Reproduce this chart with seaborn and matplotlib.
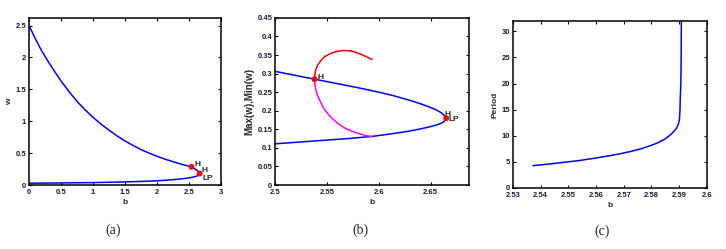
import numpy as np
import pandas as pd
import matplotlib
matplotlib.use("Agg")
import matplotlib.pyplot as plt
import seaborn as sns

sns.set_style("ticks")
plt.rcParams['font.family'] = ['Liberation Sans', 'DejaVu Sans']

# ---- Panel (a): equilibrium branch w vs b ----
a_upper_b = [0.0, 0.1, 0.2, 0.3, 0.4, 0.5, 0.625, 0.75, 0.875, 1.0, 1.125, 1.25, 1.375, 1.5,
             1.625, 1.75, 1.875, 2.0, 2.125, 2.25, 2.325, 2.4, 2.47, 2.538, 2.575, 2.61, 2.635,
             2.652, 2.66, 2.665]
a_upper_w = [2.5, 2.29, 2.10, 1.935, 1.78, 1.63, 1.465, 1.31, 1.18, 1.06, 0.955, 0.86, 0.77, 0.69,
             0.62, 0.555, 0.5, 0.45, 0.405, 0.365, 0.342, 0.32, 0.302, 0.285, 0.262, 0.24, 0.222,
             0.205, 0.193, 0.18]
a_lower_b = [2.665, 2.662, 2.656, 2.648, 2.635, 2.615, 2.59, 2.55, 2.5, 2.4, 2.3, 2.15, 2.0,
             1.75, 1.5, 1.25, 1.0, 0.5, 0.0]
a_lower_w = [0.18, 0.17, 0.162, 0.155, 0.147, 0.138, 0.131, 0.121, 0.112, 0.098, 0.088, 0.076, 0.066,
             0.056, 0.049, 0.043, 0.038, 0.032, 0.028]

# ---- Panel (b): zoom near fold, with limit cycle max/min ----
b_upper_b = [2.5, 2.52, 2.538, 2.56, 2.58, 2.6, 2.615, 2.63, 2.64, 2.648, 2.655, 2.66, 2.663, 2.665]
b_upper_w = [0.306, 0.295, 0.285, 0.273, 0.262, 0.25, 0.24, 0.228, 0.219, 0.211, 0.203, 0.195, 0.188, 0.18]
b_lower_b = [2.665, 2.664, 2.662, 2.659, 2.655, 2.648, 2.64, 2.629, 2.615, 2.594, 2.57, 2.55, 2.525, 2.5]
b_lower_w = [0.18, 0.174, 0.169, 0.165, 0.161, 0.156, 0.151, 0.145, 0.139, 0.131, 0.125, 0.121, 0.116, 0.111]
b_max_b = [2.538, 2.5383, 2.539, 2.5405, 2.5425, 2.545, 2.548, 2.552, 2.556, 2.5605, 2.5645,
           2.569, 2.573, 2.577, 2.582, 2.587, 2.5935]
b_max_w = [0.285, 0.297, 0.309, 0.32, 0.329, 0.338, 0.346, 0.352, 0.357, 0.36, 0.362,
           0.362, 0.361, 0.358, 0.353, 0.347, 0.338]
b_min_b = [2.538, 2.5383, 2.539, 2.5405, 2.5425, 2.545, 2.548, 2.552, 2.556, 2.5605, 2.5645,
           2.569, 2.575, 2.58, 2.585, 2.5895, 2.5935]
b_min_w = [0.285, 0.272, 0.259, 0.245, 0.231, 0.216, 0.202, 0.188, 0.177, 0.166, 0.158,
           0.151, 0.144, 0.139, 0.135, 0.132, 0.1305]

# ---- Panel (c): period of limit cycle ----
c_b = [2.5372, 2.5435, 2.5495, 2.5545, 2.5592, 2.564, 2.5688, 2.5725, 2.576, 2.579, 2.5821,
       2.5848, 2.5869, 2.5882, 2.5891, 2.5897, 2.5901, 2.5903, 2.5904, 2.5906, 2.5907, 2.5908]
c_period = [4.28, 4.62, 4.98, 5.3, 5.68, 6.1, 6.57, 7.0, 7.47, 8.0, 8.6,
            9.35, 10.2, 10.9, 11.5, 12.2, 13.1, 14.8, 16.9, 20.0, 23.3, 32.0]

# special points (H, H/LP)
a_pts_b = [2.538, 2.665]
a_pts_w = [0.285, 0.18]
b_pts_b = [2.538, 2.665]
b_pts_w = [0.285, 0.18]

a_xticks = [0, 0.5, 1, 1.5, 2, 2.5, 3]
a_yticks = [0, 0.5, 1, 1.5, 2, 2.5]
b_xticks = [2.5, 2.55, 2.6, 2.65]
b_yticks = [0, 0.05, 0.1, 0.15, 0.2, 0.25, 0.3, 0.35, 0.4, 0.45]
c_xticks = [2.53, 2.54, 2.55, 2.56, 2.57, 2.58, 2.59, 2.6]
c_yticks = [0, 5, 10, 15, 20, 25, 30]

fig = plt.figure(figsize=(7.26, 2.49), dpi=100)
axA = fig.add_axes([0.040, 0.257, 0.2645, 0.671])
axB = fig.add_axes([0.379, 0.257, 0.267, 0.671])
axC = fig.add_axes([0.7066, 0.245, 0.267, 0.671])

BLUE = (0, 0, 1)
lw = 1.1

def line(ax, xs, ys, color):
    df = pd.DataFrame({"x": xs, "y": ys})
    sns.lineplot(data=df, x="x", y="y", ax=ax, color=color, lw=lw, sort=False, estimator=None)

line(axA, a_upper_b, a_upper_w, BLUE)
line(axA, a_lower_b, a_lower_w, BLUE)
sns.scatterplot(x=a_pts_b, y=a_pts_w, ax=axA, color="red", s=18, edgecolor="none", zorder=5)
axA.text(2.58, 0.30, "H", fontsize=6, fontweight="bold", color="#222")
axA.text(2.7, 0.2, "H", fontsize=6, fontweight="bold", color="#222")
axA.text(2.71, 0.08, "LP", fontsize=6, fontweight="bold", color="#222")

line(axB, b_upper_b, b_upper_w, BLUE)
line(axB, b_lower_b, b_lower_w, BLUE)
line(axB, b_max_b, b_max_w, "red")
line(axB, b_min_b, b_min_w, "magenta")
sns.scatterplot(x=b_pts_b, y=b_pts_w, ax=axB, color="red", s=18, edgecolor="none", zorder=5)
axB.text(2.541, 0.285, "H", fontsize=6, fontweight="bold", color="#222")
axB.text(2.663, 0.186, "H", fontsize=6, fontweight="bold", color="#222")
axB.text(2.667, 0.172, "LP", fontsize=6, fontweight="bold", color="#222")

line(axC, c_b, c_period, BLUE)

def style(ax, xlim, ylim, xt, yt, xl, yl, ylsize=6):
    ax.set_xlim(*xlim)
    ax.set_ylim(*ylim)
    ax.set_xticks(xt)
    ax.set_yticks(yt)
    ax.set_xticklabels([f"{v:g}" for v in xt])
    ax.set_yticklabels([f"{v:g}" for v in yt])
    ax.tick_params(direction="in", length=2.5, width=0.8, top=True, right=True,
                   labelsize=5.5, pad=2, colors="black", labelcolor="#1a1a3a")
    ax.tick_params(axis="x", pad=3)
    for lab in ax.get_xticklabels() + ax.get_yticklabels():
        lab.set_fontweight("bold")
    for s in ax.spines.values():
        s.set_visible(True)
        s.set_linewidth(1.1)
        s.set_color("black")
    ax.set_xlabel(xl, fontsize=6, fontweight="bold", labelpad=2)
    ax.set_ylabel(yl, fontsize=ylsize, fontweight="bold", labelpad=2)

style(axA, (0, 3), (0, 2.62), a_xticks, a_yticks, "b", "w")
style(axB, (2.5, 2.687), (0, 0.45), b_xticks, b_yticks, "b", "Max(w),Min(w)", ylsize=7)
style(axC, (2.53, 2.6), (0, 32), c_xticks, c_yticks, "b", "Period")

capfont = dict(fontsize=10, family=["Liberation Serif", "DejaVu Serif"])
fig.text(113 / 726, 1 - 230 / 249, "(a)", ha="center", va="center", **capfont)
fig.text(360 / 726, 1 - 230 / 249, "(b)", ha="center", va="center", **capfont)
fig.text(602 / 726, 1 - 231 / 249, "(c)", ha="center", va="center", **capfont)

fig.savefig("out.png", dpi=100)
